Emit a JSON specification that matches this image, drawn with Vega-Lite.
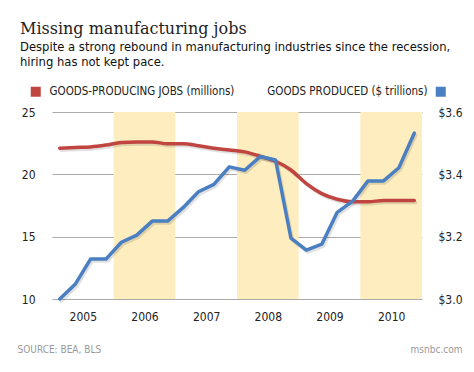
{
  "$schema": "https://vega.github.io/schema/vega-lite/v6.json",
  "width": 370,
  "height": 187,
  "autosize": {"type": "none"},
  "padding": {"left": 52, "top": 112, "right": 52, "bottom": 73},
  "background": "white",
  "config": {
    "view": {"stroke": null},
    "font": "DejaVu Sans"
  },
  "title": {
    "text": "Missing manufacturing jobs",
    "subtitle": ["Despite a strong rebound in manufacturing  industries since the recession,", "hiring has not kept pace."],
    "anchor": "start",
    "frame": "group",
    "dx": -32,
    "offset": 17,
    "font": "DejaVu Serif",
    "fontSize": 16,
    "fontWeight": "normal",
    "color": "#222",
    "subtitleFont": "DejaVu Sans",
    "subtitleFontSize": 11.6,
    "subtitleColor": "#111",
    "subtitleLineHeight": 15,
    "subtitlePadding": 5
  },
  "datasets": {
    "bands": [
      {"start": 2005.5, "end": 2006.5},
      {"start": 2007.5, "end": 2008.5},
      {"start": 2009.5, "end": 2010.5}
    ],
    "series": [
      {"t": 2004.625, "jobs": 22.1, "goods": 3.000},
      {"t": 2004.875, "jobs": 22.15, "goods": 3.047},
      {"t": 2005.125, "jobs": 22.2, "goods": 3.128},
      {"t": 2005.375, "jobs": 22.35, "goods": 3.128},
      {"t": 2005.625, "jobs": 22.55, "goods": 3.182},
      {"t": 2005.875, "jobs": 22.6, "goods": 3.205},
      {"t": 2006.125, "jobs": 22.6, "goods": 3.250},
      {"t": 2006.375, "jobs": 22.45, "goods": 3.250},
      {"t": 2006.625, "jobs": 22.45, "goods": 3.293},
      {"t": 2006.875, "jobs": 22.3, "goods": 3.344},
      {"t": 2007.125, "jobs": 22.1, "goods": 3.368},
      {"t": 2007.375, "jobs": 21.95, "goods": 3.424},
      {"t": 2007.625, "jobs": 21.8, "goods": 3.413},
      {"t": 2007.875, "jobs": 21.45, "goods": 3.457},
      {"t": 2008.125, "jobs": 21.05, "goods": 3.446},
      {"t": 2008.375, "jobs": 20.35, "goods": 3.195},
      {"t": 2008.625, "jobs": 19.25, "goods": 3.157},
      {"t": 2008.875, "jobs": 18.45, "goods": 3.176},
      {"t": 2009.125, "jobs": 18.0, "goods": 3.278},
      {"t": 2009.375, "jobs": 17.8, "goods": 3.314},
      {"t": 2009.625, "jobs": 17.8, "goods": 3.379},
      {"t": 2009.875, "jobs": 17.9, "goods": 3.379},
      {"t": 2010.125, "jobs": 17.9, "goods": 3.421},
      {"t": 2010.375, "jobs": 17.9, "goods": 3.532}
    ]
  },
  "layer": [
    {
      "data": {"name": "bands"},
      "mark": {"type": "rect", "color": "#fdedbf"},
      "encoding": {
        "x": {"field": "start", "type": "quantitative",
          "scale": {"domain": [2004.5, 2010.5], "nice": false, "zero": false},
          "axis": {
            "values": [2005, 2006, 2007, 2008, 2009, 2010],
            "format": "d",
            "grid": false, "ticks": false, "domain": false,
            "labelFont": "DejaVu Sans Condensed",
            "labelFontSize": 12,
            "labelColor": "#222",
            "labelPadding": 12,
            "title": "SOURCE: BEA, BLS",
            "titleFont": "DejaVu Sans Condensed",
            "titleFontSize": 10,
            "titleFontWeight": "normal",
            "titleColor": "#999",
            "titleAnchor": "start",
            "titleAlign": "left",
            "titleBaseline": "middle",
            "titleX": -35,
            "titleY": 50
          }
        },
        "x2": {"field": "end"}
      }
    },
    {
      "data": {"name": "series"},
      "mark": {"type": "line", "interpolate": "monotone", "strokeWidth": 3.5, "strokeCap": "round", "color": "#000", "opacity": 0.12, "xOffset": 1.5, "yOffset": 2},
      "encoding": {
        "x": {"field": "t", "type": "quantitative"},
        "y": {"field": "jobs", "type": "quantitative",
          "scale": {"domain": [10, 25], "nice": false, "zero": false},
          "axis": null
        }
      }
    },
    {
      "data": {"name": "series"},
      "mark": {"type": "line", "interpolate": "linear", "strokeWidth": 3.5, "strokeJoin": "round", "strokeCap": "round", "color": "#000", "opacity": 0.12, "xOffset": 1.5, "yOffset": 2},
      "encoding": {
        "x": {"field": "t", "type": "quantitative"},
        "y": {"field": "goods", "type": "quantitative",
          "scale": {"domain": [3.0, 3.6], "nice": false, "zero": false},
          "axis": null
        }
      }
    },
    {
      "data": {"name": "series"},
      "mark": {"type": "line", "interpolate": "monotone", "strokeWidth": 3.5, "strokeCap": "round"},
      "encoding": {
        "x": {"field": "t", "type": "quantitative"},
        "y": {"field": "jobs", "type": "quantitative",
          "scale": {"domain": [10, 25], "nice": false, "zero": false},
          "axis": {
            "orient": "left",
            "values": [10, 15, 20, 25],
            "grid": true, "gridColor": "#aaa", "gridWidth": 1,
            "ticks": false, "domain": false,
            "labelFont": "DejaVu Sans Condensed",
            "labelFontSize": 12, "labelColor": "#222",
            "labelPadding": 17,
            "labelBaseline": "middle",
            "title": null
          }
        },
        "color": {"datum": "GOODS-PRODUCING JOBS (millions)", "type": "nominal",
          "scale": {"range": ["#c0443f"]},
          "legend": {
            "orient": "none", "legendX": -22, "legendY": -26,
            "title": null,
            "symbolType": "square", "symbolSize": 100, "symbolStrokeWidth": 0,
            "symbolFillColor": "#c0443f", "symbolOpacity": 1,
            "labelFont": "DejaVu Sans Condensed", "labelFontSize": 11.5, "labelColor": "#222",
            "labelOffset": 8, "labelLimit": 300
          }
        }
      }
    },
    {
      "data": {"name": "series"},
      "mark": {"type": "line", "interpolate": "linear", "strokeWidth": 3.5, "strokeJoin": "round", "strokeCap": "round"},
      "encoding": {
        "x": {"field": "t", "type": "quantitative"},
        "y": {"field": "goods", "type": "quantitative",
          "scale": {"domain": [3.0, 3.6], "nice": false, "zero": false},
          "axis": {
            "orient": "right",
            "values": [3.0, 3.2, 3.4, 3.6],
            "format": "$.1f",
            "grid": false,
            "ticks": false, "domain": false,
            "labelFont": "DejaVu Sans Condensed",
            "labelFontSize": 12, "labelColor": "#222",
            "labelPadding": 16,
            "labelBaseline": "middle",
            "title": "msnbc.com",
            "titleFont": "DejaVu Sans Condensed",
            "titleFontSize": 10,
            "titleFontWeight": "normal",
            "titleColor": "#999",
            "titleAngle": 0,
            "titleAlign": "right",
            "titleBaseline": "middle",
            "titleX": 40,
            "titleY": 237
          }
        },
        "color": {"datum": "GOODS PRODUCED ($ trillions)", "type": "nominal",
          "scale": {"range": ["#4a7fc1"]},
          "legend": {
            "orient": "none", "legendX": 383, "legendY": -26,
            "title": null,
            "symbolType": "square", "symbolSize": 100, "symbolStrokeWidth": 0,
            "symbolFillColor": "#4a7fc1", "symbolOpacity": 1,
            "labelFont": "DejaVu Sans Condensed", "labelFontSize": 11.5, "labelColor": "#222",
            "labelAlign": "right",
            "labelOffset": -19, "labelLimit": 300
          }
        }
      }
    }
  ],
  "resolve": {"scale": {"y": "independent", "color": "independent"}}
}
